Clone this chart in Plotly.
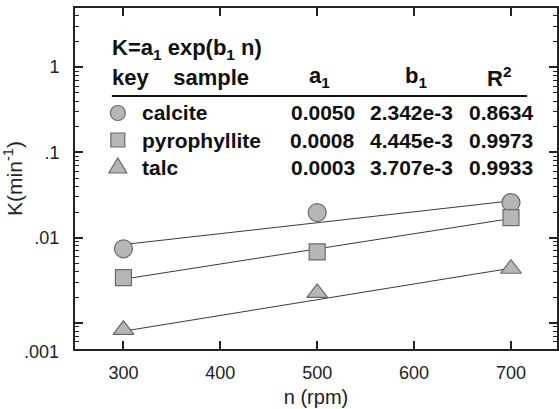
import plotly.graph_objects as go

# measured rotation speed and rate constants
n_rpm = [300, 500, 700]
k_calcite = [0.0074, 0.0197, 0.0258]
k_pyrophyllite = [0.0034, 0.0068, 0.0172]
k_talc = [0.00083, 0.00225, 0.00432]

# fitted lines (end points)
fit_n = [300, 700]
fit_calcite = [0.0083, 0.0270]
fit_pyrophyllite = [0.00326, 0.01675]
fit_talc = [0.00080, 0.00438]

# table in the plot
samples = ["calcite", "pyrophyllite", "talc"]
a1_vals = ["0.0050", "0.0008", "0.0003"]
b1_vals = ["2.342e-3", "4.445e-3", "3.707e-3"]
r2_vals = ["0.8634", "0.9973", "0.9933"]

y_tickvals = [0.001, 0.01, 0.1, 1]
y_ticktext = ["", ".01", ".1", "1"]
x_tickvals = [300, 400, 500, 600, 700]
y_minor = [m * d for d in [0.0001, 0.001, 0.01, 0.1, 1] for m in range(2, 10)]

W, H = 559, 409
L, R, T, B = 75, 0, 8, 60
PW, PH = W - L - R, H - T - B

FONT = "Arial, Liberation Sans, sans-serif"
FILL = "#b6b6b6"
EDGE = "#6a6a6a"


def px(x):
    return (x - L) / PW


def py(y):
    return (H - B - y) / PH


fig = go.Figure()

series = [
    (k_calcite, fit_calcite, "circle", 18),
    (k_pyrophyllite, fit_pyrophyllite, "square", 16),
    (k_talc, fit_talc, "triangle-up", 18),
]
for k, fit, sym, size in series:
    fig.add_trace(go.Scatter(x=fit_n, y=fit, mode="lines",
                             line=dict(color="#3a3a3a", width=1), showlegend=False))
for (k, fit, sym, size), name in zip(series, samples):
    fig.add_trace(go.Scatter(x=n_rpm, y=k, mode="markers", name=name, showlegend=False,
                             marker=dict(symbol=sym, size=size, color=FILL,
                                         line=dict(color=EDGE, width=1.2))))

ann = []
bold = dict(family=FONT, size=21, color="#111111")
head = dict(family=FONT, size=22, color="#111111")


def label(x, y, text, anchor="left", font=bold):
    ann.append(dict(x=px(x), y=py(y), xref="paper", yref="paper", text=text,
                    showarrow=False, xanchor=anchor, yanchor="middle", font=font))


label(110, 49, "<b>K=a<sub>1</sub> exp(b<sub>1</sub> n)</b>", font=head)
label(110, 77, "<b>key    sample</b>", font=head)
label(321, 77, "<b>a<sub>1</sub></b>", "center", head)
label(417, 77, "<b>b<sub>1</sub></b>", "center", head)
label(501, 77, "<b>R<sup>2</sup></b>", "center", head)
row_y = [113, 140, 167]
for yy, s, a, b, r in zip(row_y, samples, a1_vals, b1_vals, r2_vals):
    label(140, yy, "<b>" + s + "</b>")
    label(324, yy, "<b>" + a + "</b>", "center")
    label(413, yy, "<b>" + b + "</b>", "center")
    label(503, yy, "<b>" + r + "</b>", "center")

# .001 label sits at the bottom edge in the original
ann.append(dict(x=-0.03, y=-0.01, xref="paper", yref="paper", text=".001",
                showarrow=False, xanchor="right", yanchor="middle",
                font=dict(family=FONT, size=18, color="#222")))

shapes = [dict(type="line", xref="paper", yref="paper", x0=px(112), x1=px(529),
               y0=py(96), y1=py(96), line=dict(color="#111", width=2))]
# key symbols
cx = 118
shapes.append(dict(type="circle", xref="paper", yref="paper",
                   x0=px(cx - 7.5), x1=px(cx + 7.5), y0=py(113 + 7.5), y1=py(113 - 7.5),
                   fillcolor=FILL, line=dict(color=EDGE, width=1.2)))
shapes.append(dict(type="rect", xref="paper", yref="paper",
                   x0=px(cx - 7), x1=px(cx + 7), y0=py(140 + 7), y1=py(140 - 7),
                   fillcolor=FILL, line=dict(color=EDGE, width=1.2)))
tri = "M {} {} L {} {} L {} {} Z".format(px(cx - 9), py(173), px(cx + 9), py(173), px(cx), py(158))
shapes.append(dict(type="path", xref="paper", yref="paper", path=tri,
                   fillcolor=FILL, line=dict(color=EDGE, width=1.2)))

fig.update_layout(
    width=W, height=H,
    margin=dict(l=L, r=R, t=T, b=B),
    paper_bgcolor="white", plot_bgcolor="white",
    font=dict(family=FONT, size=18, color="#222"),
    annotations=ann, shapes=shapes,
    xaxis=dict(range=[250, 747.5], tickvals=x_tickvals, ticks="inside", ticklen=8,
               tickwidth=1.5, tickcolor="#222", showline=True, linewidth=2,
               linecolor="#222", mirror="ticks", showgrid=False, zeroline=False,
               ticklabelstandoff=6,
               title=dict(text="n (rpm)", font=dict(size=20), standoff=8)),
    yaxis=dict(type="log", range=[-3.306, 0.694], tickvals=y_tickvals, ticktext=y_ticktext,
               ticks="inside", ticklen=8, tickwidth=1.5, tickcolor="#222",
               showline=True, linewidth=2, linecolor="#222", mirror="ticks",
               showgrid=False, zeroline=False, ticklabelstandoff=10,
               minor=dict(tickvals=y_minor, ticks="inside", ticklen=4, tickwidth=1,
                          tickcolor="#222", showgrid=False),
               title=dict(text="K(min<sup>-1</sup>)", font=dict(size=21), standoff=6)),
)

fig.write_html("out.html", config={"displayModeBar": False},
               post_script="document.body.style.margin='0';")
